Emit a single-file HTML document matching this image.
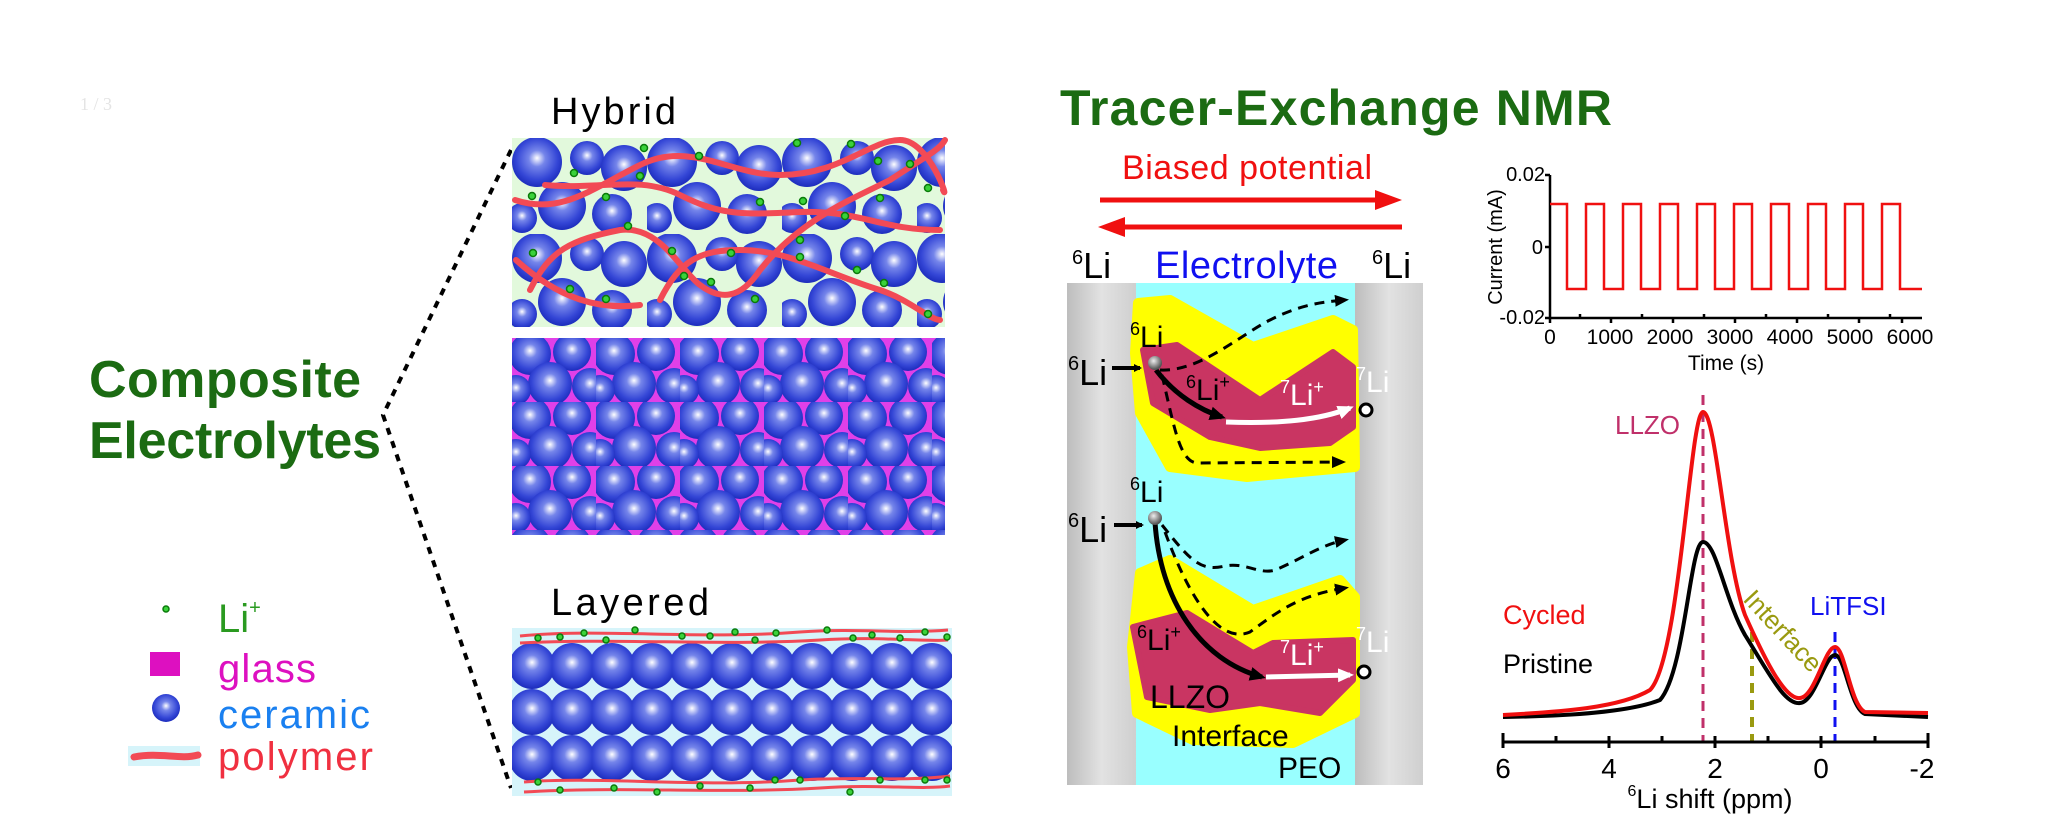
<!DOCTYPE html>
<html><head><meta charset="utf-8"><style>html,body{margin:0;padding:0;background:#fff;}svg{display:block;}</style></head>
<body>
<svg width="2058" height="838" viewBox="0 0 2058 838" xmlns="http://www.w3.org/2000/svg" font-family="Liberation Sans, sans-serif">
<defs>
<radialGradient id="ball" cx="0.5" cy="0.45" r="0.55" fx="0.5" fy="0.42">
<stop offset="0" stop-color="#ffffff"/><stop offset="0.3" stop-color="#7585ea"/><stop offset="0.75" stop-color="#3446d6"/><stop offset="1" stop-color="#1c2cbc"/></radialGradient>
<radialGradient id="gball" cx="0.4" cy="0.35" r="0.6"><stop offset="0" stop-color="#eee"/><stop offset="1" stop-color="#555"/></radialGradient>
<linearGradient id="elec" x1="0" x2="1"><stop offset="0" stop-color="#bdbdbd"/><stop offset="0.5" stop-color="#e2e2e2"/><stop offset="1" stop-color="#cfcfcf"/></linearGradient>
<pattern id="hyb" patternUnits="userSpaceOnUse" x="512" y="138" width="135" height="96">
<circle cx="25" cy="24" r="25" fill="url(#ball)"/><circle cx="75" cy="20" r="17" fill="url(#ball)"/><circle cx="112" cy="30" r="23" fill="url(#ball)"/>
<circle cx="50" cy="68" r="24" fill="url(#ball)"/><circle cx="100" cy="76" r="20" fill="url(#ball)"/><circle cx="10" cy="80" r="15" fill="url(#ball)"/></pattern>
<pattern id="gls" patternUnits="userSpaceOnUse" x="512" y="338" width="84" height="64">
<circle cx="18" cy="16" r="21" fill="url(#ball)"/><circle cx="60" cy="14" r="19" fill="url(#ball)"/><circle cx="38" cy="46" r="22" fill="url(#ball)"/><circle cx="78" cy="48" r="18" fill="url(#ball)"/><circle cx="4" cy="52" r="15" fill="url(#ball)"/></pattern>
<pattern id="lay" patternUnits="userSpaceOnUse" x="512" y="643" width="40" height="46">
<circle cx="20" cy="23" r="23" fill="url(#ball)"/></pattern>
<marker id="ah" markerWidth="8" markerHeight="8" refX="6" refY="4" orient="auto" markerUnits="userSpaceOnUse"><path d="M0 0 L8 4 L0 8 Z" fill="#000"/></marker>
<marker id="ahb" markerWidth="16" markerHeight="14" refX="12" refY="7" orient="auto" markerUnits="userSpaceOnUse"><path d="M0 0 L16 7 L0 14 Z" fill="#000"/></marker>
<marker id="ahw" markerWidth="16" markerHeight="14" refX="12" refY="7" orient="auto" markerUnits="userSpaceOnUse"><path d="M0 0 L16 7 L0 14 Z" fill="#fff"/></marker>
<marker id="ahd" markerWidth="14" markerHeight="12" refX="10" refY="6" orient="auto" markerUnits="userSpaceOnUse"><path d="M0 0 L14 6 L0 12 Z" fill="#000"/></marker>
</defs>

<text x="80" y="110" font-family="Liberation Serif, serif" font-size="18" fill="#e4e4e4">1 / 3</text>

<!-- Left title -->
<text x="89" y="397" font-size="52" font-weight="bold" fill="#1b6b12" textLength="272">Composite</text>
<text x="89" y="458" font-size="52" font-weight="bold" fill="#1b6b12" textLength="292">Electrolytes</text>
<polyline points="511,150 383,415 511,788" fill="none" stroke="#000" stroke-width="4" stroke-dasharray="7,7"/>

<!-- Hybrid -->
<text x="551" y="124" font-size="38" fill="#000" textLength="125">Hybrid</text>
<rect x="512" y="138" width="433" height="189" fill="#e2f9dc"/>
<rect x="512" y="138" width="433" height="189" fill="url(#hyb)"/>
<g fill="none" stroke="#f24a55" stroke-width="6" stroke-linecap="round">
<path d="M515 200 C560 215 590 190 640 165 C690 140 730 175 780 175 C840 175 870 140 900 140 C930 140 950 205 943 190"/>
<path d="M545 185 C600 190 640 175 680 195 C720 215 740 215 800 212 C860 210 880 230 940 230"/>
<path d="M516 260 C560 300 600 310 640 305 M660 300 C680 260 700 250 740 250 C790 250 830 275 880 290 C910 300 930 320 940 320"/>
<path d="M530 290 C550 250 570 240 620 230 C660 225 680 270 700 285 C720 300 740 300 760 270 C800 220 850 200 890 180 C920 160 940 150 945 140"/>
</g>
<g fill="#3ad23a" stroke="#0a7a0a" stroke-width="1.5">
<circle cx="644" cy="148" r="3.5"/><circle cx="699" cy="156" r="3.5"/><circle cx="574" cy="173" r="3.5"/><circle cx="532" cy="196" r="3.5"/><circle cx="606" cy="197" r="3.5"/><circle cx="640" cy="176" r="3.5"/><circle cx="760" cy="202" r="3.5"/><circle cx="803" cy="201" r="3.5"/><circle cx="845" cy="216" r="3.5"/><circle cx="880" cy="198" r="3.5"/><circle cx="928" cy="188" r="3.5"/><circle cx="910" cy="164" r="3.5"/><circle cx="878" cy="161" r="3.5"/><circle cx="851" cy="144" r="3.5"/><circle cx="797" cy="143" r="3.5"/><circle cx="628" cy="226" r="3.5"/><circle cx="533" cy="253" r="3.5"/><circle cx="672" cy="251" r="3.5"/><circle cx="731" cy="253" r="3.5"/><circle cx="800" cy="240" r="3.5"/><circle cx="800" cy="257" r="3.5"/><circle cx="857" cy="270" r="3.5"/><circle cx="884" cy="283" r="3.5"/><circle cx="684" cy="276" r="3.5"/><circle cx="711" cy="282" r="3.5"/><circle cx="570" cy="289" r="3.5"/><circle cx="606" cy="299" r="3.5"/><circle cx="755" cy="299" r="3.5"/><circle cx="928" cy="314" r="3.5"/></g>

<!-- Glass -->
<rect x="512" y="338" width="433" height="197" fill="#e040e8"/>
<rect x="512" y="338" width="433" height="197" fill="url(#gls)"/>

<!-- Layered -->
<text x="551" y="615" font-size="38" fill="#000" textLength="158">Layered</text>
<rect x="512" y="628" width="440" height="168" fill="#d6f4fa"/>
<rect x="512" y="643" width="440" height="138" fill="url(#lay)"/>
<g fill="none" stroke="#f24a55" stroke-width="3">
<path d="M520 636 C600 628 700 640 800 632 C860 628 900 634 948 630"/><path d="M520 643 C620 638 720 646 820 640 C880 636 920 642 948 640"/>
<path d="M524 782 C600 776 700 788 800 780 C860 776 900 782 950 776"/><path d="M524 792 C620 786 720 794 820 788 C880 784 920 790 950 786"/></g>
<g fill="#3ad23a" stroke="#0a7a0a" stroke-width="1.5">
<circle cx="538" cy="638" r="3"/><circle cx="560" cy="637" r="3"/><circle cx="584" cy="633" r="3"/><circle cx="606" cy="640" r="3"/><circle cx="635" cy="630" r="3"/><circle cx="682" cy="636" r="3"/><circle cx="710" cy="636" r="3"/><circle cx="735" cy="632" r="3"/><circle cx="755" cy="640" r="3"/><circle cx="776" cy="633" r="3"/><circle cx="827" cy="630" r="3"/><circle cx="853" cy="638" r="3"/><circle cx="872" cy="635" r="3"/><circle cx="900" cy="638" r="3"/><circle cx="925" cy="632" r="3"/><circle cx="947" cy="637" r="3"/>
<circle cx="538" cy="782" r="3"/><circle cx="560" cy="790" r="3"/><circle cx="614" cy="788" r="3"/><circle cx="657" cy="792" r="3"/><circle cx="700" cy="786" r="3"/><circle cx="750" cy="788" r="3"/><circle cx="775" cy="780" r="3"/><circle cx="800" cy="780" r="3"/><circle cx="850" cy="792" r="3"/><circle cx="880" cy="780" r="3"/><circle cx="925" cy="780" r="3"/><circle cx="947" cy="780" r="3"/></g>

<!-- Legend -->
<circle cx="166" cy="609" r="3" fill="#3ad23a" stroke="#0a7a0a" stroke-width="1.5"/>
<text x="218" y="632" font-size="40" fill="#2a9a20">Li<tspan font-size="20" dy="-18">+</tspan></text>
<rect x="150" y="652" width="30" height="24" fill="#dd10c0"/>
<text x="218" y="682" font-size="40" fill="#dd10c0" textLength="98">glass</text>
<circle cx="166" cy="708" r="14" fill="url(#ball)"/>
<text x="218" y="728" font-size="40" fill="#1a80f0" textLength="152">ceramic</text>
<rect x="128" y="746" width="72" height="20" fill="#d6f4fa"/>
<path d="M134 757 C160 752 180 760 198 755" stroke="#f24a55" stroke-width="7" fill="none" stroke-linecap="round"/>
<text x="218" y="770" font-size="40" fill="#f03040" textLength="155">polymer</text>

<!-- Right title -->
<text x="1060" y="125" font-size="50" font-weight="bold" fill="#1b6b12" textLength="552">Tracer-Exchange NMR</text>
<text x="1122" y="179" font-size="34" fill="#f01010" textLength="250">Biased potential</text>
<line x1="1100" y1="200" x2="1385" y2="200" stroke="#f01010" stroke-width="5"/><path d="M1375 190 L1402 200 L1375 210 Z" fill="#f01010"/>
<line x1="1115" y1="227" x2="1402" y2="227" stroke="#f01010" stroke-width="5"/><path d="M1125 217 L1098 227 L1125 237 Z" fill="#f01010"/>
<text x="1072" y="278" font-size="36" fill="#000"><tspan font-size="20" dy="-14">6</tspan><tspan dy="14">Li</tspan></text>
<text x="1155" y="278" font-size="38" fill="#1010f0" textLength="183">Electrolyte</text>
<text x="1372" y="278" font-size="36" fill="#000"><tspan font-size="20" dy="-14">6</tspan><tspan dy="14">Li</tspan></text>

<!-- Cell -->
<rect x="1067" y="283" width="69" height="502" fill="url(#elec)"/>
<rect x="1136" y="283" width="219" height="502" fill="#99ffff"/>
<rect x="1355" y="283" width="68" height="502" fill="url(#elec)"/>
<path d="M1138 303 L1170 300 L1253 347 L1333 320 L1353 330 L1355 467 L1247 477 L1170 467 L1140 413 L1135 353 Z" fill="#ffff00" stroke="#ffff00" stroke-width="10" stroke-linejoin="round"/>
<path d="M1143 350 L1177 345 L1260 400 L1333 352 L1353 367 L1353 427 L1330 443 L1260 448 L1210 437 L1153 403 Z" fill="#c93562" stroke="#c93562" stroke-width="6" stroke-linejoin="round"/>
<path d="M1140 573 L1170 560 L1253 610 L1340 580 L1355 597 L1355 713 L1293 743 L1193 740 L1137 713 L1132 647 Z" fill="#ffff00" stroke="#ffff00" stroke-width="10" stroke-linejoin="round"/>
<path d="M1133 627 L1187 613 L1253 653 L1273 643 L1353 640 L1353 680 L1320 713 L1260 703 L1210 710 L1147 697 Z" fill="#c93562" stroke="#c93562" stroke-width="6" stroke-linejoin="round"/>
<g fill="none" stroke="#000" stroke-width="3" stroke-dasharray="10,7">
<path d="M1160 370 C1200 372 1240 335 1270 320 C1300 305 1320 302 1345 300" marker-end="url(#ahd)"/>
<path d="M1162 375 C1175 430 1180 465 1200 463 L1342 462" marker-end="url(#ahd)"/>
<path d="M1162 525 C1190 560 1200 572 1225 566 C1245 562 1260 575 1275 570 C1300 560 1320 545 1345 540" marker-end="url(#ahd)"/>
<path d="M1165 532 C1190 600 1220 645 1250 632 C1280 610 1300 595 1345 588" marker-end="url(#ahd)"/></g>
<line x1="1112" y1="368" x2="1140" y2="368" stroke="#000" stroke-width="4" marker-end="url(#ah)"/>
<line x1="1114" y1="525" x2="1142" y2="525" stroke="#000" stroke-width="4" marker-end="url(#ah)"/>
<path d="M1156 370 C1175 395 1200 410 1222 417" fill="none" stroke="#000" stroke-width="5" marker-end="url(#ahb)"/>
<path d="M1226 422 C1280 424 1320 420 1350 408" fill="none" stroke="#fff" stroke-width="5" marker-end="url(#ahw)"/>
<path d="M1155 522 C1160 600 1200 660 1262 677" fill="none" stroke="#000" stroke-width="5" marker-end="url(#ahb)"/>
<path d="M1266 677 L1350 675" fill="none" stroke="#fff" stroke-width="5" marker-end="url(#ahw)"/>
<circle cx="1155" cy="363" r="7" fill="url(#gball)"/><circle cx="1155" cy="518" r="7" fill="url(#gball)"/>
<circle cx="1366" cy="410" r="6" fill="#fff" stroke="#000" stroke-width="3"/><circle cx="1364" cy="672" r="6" fill="#fff" stroke="#000" stroke-width="3"/>
<g font-size="36" fill="#000">
<text x="1068" y="385"><tspan font-size="20" dy="-15">6</tspan><tspan dy="15">Li</tspan></text>
<text x="1068" y="542"><tspan font-size="20" dy="-15">6</tspan><tspan dy="15">Li</tspan></text></g>
<g font-size="30" fill="#000">
<text x="1130" y="347"><tspan font-size="18" dy="-12">6</tspan><tspan dy="12">Li</tspan></text>
<text x="1130" y="502"><tspan font-size="18" dy="-12">6</tspan><tspan dy="12">Li</tspan></text>
<text x="1186" y="400"><tspan font-size="18" dy="-12">6</tspan><tspan dy="12">Li</tspan><tspan font-size="18" dy="-12">+</tspan></text>
<text x="1137" y="650"><tspan font-size="18" dy="-12">6</tspan><tspan dy="12">Li</tspan><tspan font-size="18" dy="-12">+</tspan></text>
<text x="1150" y="708" font-size="32">LLZO</text>
<text x="1172" y="746" font-size="30">Interface</text>
<text x="1278" y="778" font-size="30">PEO</text></g>
<g font-size="30" fill="#fff">
<text x="1280" y="405"><tspan font-size="18" dy="-12">7</tspan><tspan dy="12">Li</tspan><tspan font-size="18" dy="-12">+</tspan></text>
<text x="1280" y="665"><tspan font-size="18" dy="-12">7</tspan><tspan dy="12">Li</tspan><tspan font-size="18" dy="-12">+</tspan></text>
<text x="1356" y="392"><tspan font-size="18" dy="-12">7</tspan><tspan dy="12">Li</tspan></text>
<text x="1356" y="652"><tspan font-size="18" dy="-12">7</tspan><tspan dy="12">Li</tspan></text></g>

<!-- Current chart -->
<g stroke="#000" stroke-width="2.5" fill="none">
<path d="M1550 175 V318 H1922"/>
<path d="M1545 175 H1550 M1545 247 H1550 M1545 318 H1550"/>
<path d="M1550 318 v5 M1580 318 v-4 M1611 318 v5 M1642 318 v-4 M1673 318 v5 M1704 318 v-4 M1735 318 v5 M1766 318 v-4 M1797 318 v5 M1828 318 v-4 M1859 318 v5 M1890 318 v-4 M1902 318 v5"/></g>
<path d="M1550 204 H1567 V289 H1586 V204 H1604 V289 H1623 V204 H1641 V289 H1660 V204 H1678 V289 H1697 V204 H1715 V289 H1734 V204 H1752 V289 H1771 V204 H1789 V289 H1808 V204 H1826 V289 H1845 V204 H1863 V289 H1882 V204 H1900 V289 H1922" fill="none" stroke="#f01010" stroke-width="2.5"/>
<g font-size="20" fill="#000" text-anchor="end"><text x="1545" y="181">0.02</text><text x="1543" y="254">0</text><text x="1545" y="324">-0.02</text></g>
<g font-size="21" fill="#000" text-anchor="middle"><text x="1550" y="344">0</text><text x="1610" y="344">1000</text><text x="1670" y="344">2000</text><text x="1730" y="344">3000</text><text x="1790" y="344">4000</text><text x="1850" y="344">5000</text><text x="1910" y="344">6000</text>
<text x="1726" y="370">Time (s)</text>
<text transform="translate(1502 247) rotate(-90)" font-size="20">Current (mA)</text></g>

<!-- NMR spectrum -->
<line x1="1703" y1="395" x2="1703" y2="742" stroke="#c0306a" stroke-width="3" stroke-dasharray="10,7"/>
<line x1="1752" y1="632" x2="1752" y2="742" stroke="#9a9a10" stroke-width="4" stroke-dasharray="10,7"/>
<line x1="1835" y1="632" x2="1835" y2="742" stroke="#1010f0" stroke-width="3" stroke-dasharray="10,7"/>
<path d="M1503 717 C1570 716 1630 712 1660 700 C1685 672 1690 542 1703 542 C1716 542 1725 600 1745 635 C1770 675 1785 705 1800 703 C1815 702 1825 655 1835 655 C1845 655 1850 708 1865 714 L1928 717" fill="none" stroke="#000" stroke-width="4"/>
<path d="M1503 715 C1560 712 1620 708 1650 690 C1680 660 1690 412 1703 412 C1716 412 1725 560 1745 615 C1765 660 1785 700 1800 698 C1815 697 1825 647 1835 647 C1845 647 1850 705 1865 712 L1928 713" fill="none" stroke="#f01010" stroke-width="4"/>
<g stroke="#000" stroke-width="3" fill="none"><path d="M1503 742 H1928"/>
<path d="M1503 733 V748 M1556 736 V742 M1609 736 V748 M1662 736 V742 M1715 736 V748 M1768 736 V742 M1821 736 V748 M1875 736 V742 M1928 733 V748"/></g>
<g font-size="28" fill="#000" text-anchor="middle"><text x="1503" y="778">6</text><text x="1609" y="778">4</text><text x="1715" y="778">2</text><text x="1821" y="778">0</text><text x="1922" y="778">-2</text>
<text x="1710" y="808" font-size="27"><tspan font-size="16" dy="-12">6</tspan><tspan dy="12">Li shift (ppm)</tspan></text></g>
<text x="1615" y="434" font-size="26" fill="#c0306a">LLZO</text>
<text x="1503" y="624" font-size="27" fill="#f01010">Cycled</text>
<text x="1503" y="673" font-size="27" fill="#000">Pristine</text>
<text x="1810" y="615" font-size="26" fill="#1010f0">LiTFSI</text>
<text transform="translate(1742 600) rotate(47)" font-size="26" fill="#9a9a10">Interface</text>
</svg>
</body></html>
